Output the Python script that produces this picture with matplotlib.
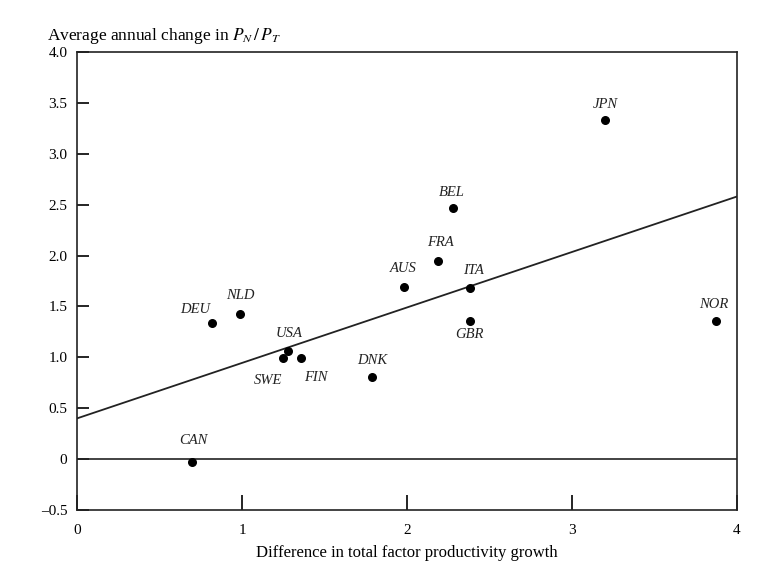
import matplotlib.pyplot as plt
import numpy as np

# Datos
paises = ["CAN", "DEU", "NLD", "USA", "SWE", "FIN", "DNK", "AUS",
          "FRA", "BEL", "ITA", "GBR", "JPN", "NOR"]
dif_ptf = [0.70, 0.82, 0.99, 1.28, 1.25, 1.36, 1.79, 1.98,
           2.19, 2.28, 2.38, 2.38, 3.20, 3.87]
cambio_pn_pt = [-0.03, 1.34, 1.43, 1.06, 0.99, 0.99, 0.81, 1.69,
                1.95, 2.47, 1.68, 1.36, 3.33, 1.36]

# Recta de regresión
intercepto = 0.40
pendiente = 0.545

y_ticks = [-0.5, 0, 0.5, 1.0, 1.5, 2.0, 2.5, 3.0, 3.5, 4.0]
y_tick_labels = ["\u20130.5", "0", "0.5", "1.0", "1.5", "2.0", "2.5", "3.0", "3.5", "4.0"]
x_ticks = [0, 1, 2, 3, 4]

# Desplazamiento de las etiquetas (pixeles)
offsets = {
    "CAN": (1, 22), "DEU": (-17, 13), "NLD": (0, 18), "USA": (1, 18),
    "SWE": (-15, -22), "FIN": (14, -19), "DNK": (0, 16), "AUS": (0, 19),
    "FRA": (2, 18), "BEL": (-1, 15), "ITA": (4, 18), "GBR": (0, -14),
    "JPN": (0, 16), "NOR": (-2, 16),
}

plt.rcParams["font.family"] = ["Liberation Serif", "DejaVu Serif"]
plt.rcParams["mathtext.fontset"] = "stix"

fig = plt.figure(figsize=(7.63, 5.62), dpi=100)
ax = fig.add_axes([0.1009, 0.0925, 0.8650, 0.8150])

ax.set_xlim(0, 4)
ax.set_ylim(-0.5, 4.0)

ax.axhline(0, color="#222222", linewidth=1.2)
xs = np.array([0, 4])
ax.plot(xs, intercepto + pendiente * xs, color="#222222", linewidth=1.3)

ax.scatter(dif_ptf, cambio_pn_pt, s=30, color="black", zorder=5)

for p, x, y in zip(paises, dif_ptf, cambio_pn_pt):
    dx, dy = offsets[p]
    ax.annotate(p, (x, y), xytext=(dx, dy), textcoords="offset pixels",
                ha="center", va="center", fontsize=10.5, style="italic",
                color="#222222")

ax.set_yticks(y_ticks)
ax.set_yticklabels(y_tick_labels)
ax.set_xticks(x_ticks)
ax.set_xticklabels([str(t) for t in x_ticks])
ax.tick_params(axis="y", direction="in", length=8.5, width=1.2, labelsize=11, pad=7)
ax.tick_params(axis="x", direction="in", length=11, width=1.2, labelsize=11, pad=10)
for s in ax.spines.values():
    s.set_linewidth(1.2)
    s.set_color("#222222")

ax.set_xlabel("Difference in total factor productivity growth", fontsize=12, labelpad=6)
fig.text(0.062, 0.918, "Average annual change in $P_N\\,/\\,P_T$", fontsize=12.5,
         ha="left", va="bottom")

fig.savefig("out.png", dpi=100)
